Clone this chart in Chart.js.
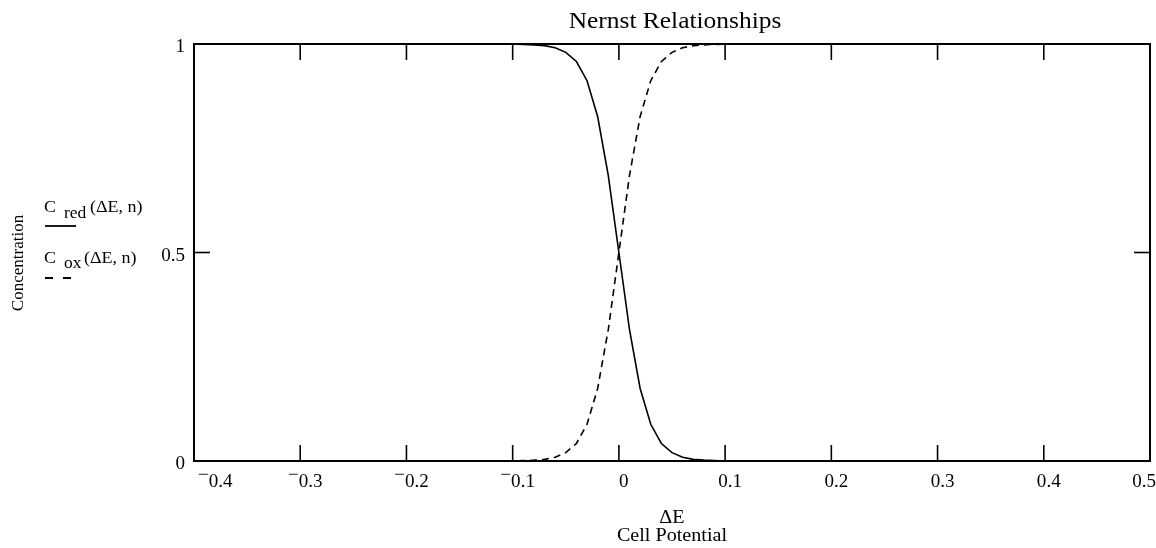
<!DOCTYPE html>
<html>
<head>
<meta charset="utf-8">
<script src="https://cdn.jsdelivr.net/npm/chart.js@4.4.1/dist/chart.umd.min.js"></script>
<style>
  body { margin: 0; background: #fff; }
  #wrap { width: 1156px; height: 548px; position: relative; }
</style>
</head>
<body>
<div id="wrap"><canvas id="nernstChart"></canvas></div>
<script>
// Cell potential values (V) and concentrations
const deltaE = [-0.4, -0.1, -0.09, -0.08, -0.07, -0.06, -0.05, -0.04, -0.03, -0.02, -0.01, 0,
    0.01, 0.02, 0.03, 0.04, 0.05, 0.06, 0.07, 0.08, 0.09, 0.1, 0.5];
const cRed = [1, 1, 0.999, 0.998, 0.996, 0.991, 0.98, 0.958, 0.912, 0.826, 0.685, 0.5,
    0.315, 0.174, 0.088, 0.042, 0.02, 0.009, 0.004, 0.002, 0.001, 0, 0];
const cOx = [0, 0, 0.001, 0.002, 0.004, 0.009, 0.02, 0.042, 0.088, 0.174, 0.315, 0.5,
    0.685, 0.826, 0.912, 0.958, 0.98, 0.991, 0.996, 0.998, 0.999, 1, 1];

// Axis ticks
const xTicks = [-0.4, -0.3, -0.2, -0.1, 0, 0.1, 0.2, 0.3, 0.4, 0.5];
const xTickLabels = ['-0.4', '-0.3', '-0.2', '-0.1', '0', '0.1', '0.2', '0.3', '0.4', '0.5'];
const yTicks = [0, 0.5, 1];
const yTickLabels = ['0', '0.5', '1'];

const SERIF = '"Liberation Serif", "DejaVu Serif", serif';
const SX = 1.06; // the original's text is a touch wider than plain Times

function toPoints(xs, ys) {
    return xs.map((v, i) => ({ x: v, y: ys[i] }));
}

// text drawn with a slight horizontal stretch
function text(ctx, str, x, y, align) {
    ctx.save();
    ctx.translate(x, y);
    ctx.scale(SX, 1);
    ctx.textAlign = align || 'left';
    ctx.fillText(str, 0, 0);
    ctx.restore();
}

function textWidth(ctx, str) {
    return ctx.measureText(str).width * SX;
}

// Mathcad style number: the minus sign sits high next to the digits
function drawNumber(ctx, str, left, baseline) {
    let x = left;
    if (str[0] === '-') {
        text(ctx, '\u2212', x, baseline - 7);
        x += textWidth(ctx, '\u2212');
        str = str.slice(1);
    }
    text(ctx, str, x, baseline);
}

function numberWidth(ctx, str) {
    if (str[0] === '-') {
        return textWidth(ctx, '\u2212') + textWidth(ctx, str.slice(1));
    }
    return textWidth(ctx, str);
}

function line(ctx, x1, y1, x2, y2) {
    ctx.beginPath();
    ctx.moveTo(x1, y1);
    ctx.lineTo(x2, y2);
    ctx.stroke();
}

// Frame, inside ticks, labels and the little legend on the left
const mathcadFrame = {
    id: 'mathcadFrame',
    afterDatasetsDraw(chart) {
        const ctx = chart.ctx;
        const a = chart.chartArea;
        const xs = chart.scales.x;
        const ys = chart.scales.y;
        ctx.save();
        ctx.strokeStyle = '#000';
        ctx.fillStyle = '#000';

        ctx.lineWidth = 2;
        ctx.strokeRect(a.left, a.top, a.right - a.left, a.bottom - a.top);

        ctx.lineWidth = 1.6;
        xTicks.forEach(v => {
            const px = xs.getPixelForValue(v);
            line(ctx, px, a.bottom, px, a.bottom - 16);
            line(ctx, px, a.top, px, a.top + 16);
        });
        yTicks.forEach(v => {
            const py = ys.getPixelForValue(v);
            line(ctx, a.left, py, a.left + 16, py);
            line(ctx, a.right, py, a.right - 16, py);
        });

        // x tick labels
        ctx.font = '18px ' + SERIF;
        ctx.textBaseline = 'alphabetic';
        xTickLabels.forEach((lab, i) => {
            const px = xs.getPixelForValue(xTicks[i]);
            const w = numberWidth(ctx, lab);
            let left = px + 5 - w / 2;
            if (left < a.left + 4) left = a.left + 4;
            if (left + w > chart.width) left = chart.width - w;
            drawNumber(ctx, lab, left, a.bottom + 26);
        });

        // y tick labels
        yTickLabels.forEach((lab, i) => {
            const py = ys.getPixelForValue(yTicks[i]);
            const w = numberWidth(ctx, lab);
            drawNumber(ctx, lab, a.left - 9 - w, py + 8);
        });

        // title
        ctx.font = '24px ' + SERIF;
        text(ctx, 'Nernst Relationships', 675, 28, 'center');

        // x axis title
        ctx.font = '19px ' + SERIF;
        text(ctx, '\u0394E', 672, 523, 'center');
        text(ctx, 'Cell Potential', 672, 541, 'center');

        // y axis title
        ctx.save();
        ctx.translate(23, 263);
        ctx.rotate(-Math.PI / 2);
        ctx.font = '17px ' + SERIF;
        ctx.textAlign = 'center';
        ctx.fillText('Concentration', 0, 0);
        ctx.restore();

        // legend entries
        ctx.font = '17px ' + SERIF;
        text(ctx, 'C', 44, 212);
        text(ctx, 'C', 44, 263);
        text(ctx, '(\u0394E, n)', 90, 212);
        text(ctx, '(\u0394E, n)', 84, 263);
        ctx.font = '16.5px ' + SERIF;
        text(ctx, 'red', 64, 218);
        text(ctx, 'ox', 64, 268);

        ctx.lineWidth = 1.8;
        line(ctx, 45, 226, 76, 226);
        ctx.setLineDash([8, 10]);
        line(ctx, 45, 278, 72, 278);
        ctx.restore();
    }
};

const ctx = document.getElementById('nernstChart').getContext('2d');
new Chart(ctx, {
    type: 'scatter',
    data: {
        datasets: [{
            label: 'C red(\u0394E, n)',
            data: toPoints(deltaE, cRed),
            showLine: true,
            borderColor: '#000',
            borderWidth: 1.6,
            pointRadius: 0,
            tension: 0,
            clip: 4
        }, {
            label: 'C ox(\u0394E, n)',
            data: toPoints(deltaE, cOx),
            showLine: true,
            borderColor: '#000',
            borderWidth: 1.6,
            borderDash: [7, 5],
            pointRadius: 0,
            tension: 0,
            clip: 4
        }]
    },
    options: {
        responsive: true,
        maintainAspectRatio: false,
        animation: false,
        layout: {
            padding: { left: 194, top: 44, right: 6, bottom: 87 }
        },
        scales: {
            x: { type: 'linear', min: -0.4, max: 0.5, display: false },
            y: { type: 'linear', min: 0, max: 1, display: false }
        },
        plugins: {
            legend: { display: false },
            tooltip: { enabled: false },
            title: { display: false }
        }
    },
    plugins: [mathcadFrame]
});
</script>
</body>
</html>
